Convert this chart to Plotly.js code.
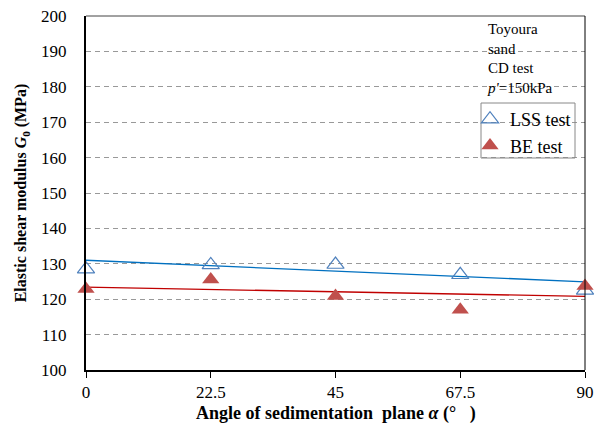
<!DOCTYPE html>
<html>
<head>
<meta charset="utf-8">
<script src="https://cdn.plot.ly/plotly-3.0.1.min.js"></script>
<style>html,body{margin:0;padding:0;background:#fff;}#chart{width:604px;height:425px;}</style>
</head>
<body>
<div id="chart"></div>
<script>
// Data
var angles = [0, 22.5, 45, 67.5, 90];
var lssG0 = [128.5, 129.7, 129.8, 126.9, 122.5];
var beG0 = [122.9, 125.6, 120.9, 117.0, 123.7];
var trendAngles = [0, 90];
var lssTrend = [131.0, 124.9];
var beTrend = [123.4, 120.8];
var xTickVals = [0, 22.5, 45, 67.5, 90];
var xTickText = ['0', '22.5', '45', '67.5', '90'];
var yTickVals = [100, 110, 120, 130, 140, 150, 160, 170, 180, 190, 200];
var xTitle = '<b>Angle of sedimentation\u00A0\u00A0plane <i>α</i> (°\u00A0\u00A0\u00A0)</b>';
var yTitle = '<b>Elastic shear modulus <i>G</i><sub>0</sub> (MPa)</b>';

var serif = '"Liberation Serif", "Times New Roman", serif';

var traces = [
  {x: trendAngles, y: lssTrend, mode: 'lines', line: {color: '#0070C0', width: 1.3}, showlegend: false, hoverinfo: 'skip'},
  {x: trendAngles, y: beTrend, mode: 'lines', line: {color: '#C00000', width: 1.3}, showlegend: false, hoverinfo: 'skip'},
  {x: angles, y: lssG0, mode: 'markers', name: 'LSS test', cliponaxis: false,
   marker: {symbol: 'triangle-up-open', size: 15, color: '#4F81BD', line: {width: 1.2, color: '#4F81BD'}}},
  {x: angles, y: beG0, mode: 'markers', name: 'BE test', cliponaxis: false,
   marker: {symbol: 'triangle-up', size: 15, color: '#C0504D', line: {width: 0}}}
];

var layout = {
  width: 604, height: 425,
  margin: {l: 86, r: 19, t: 16, b: 55},
  paper_bgcolor: '#fff', plot_bgcolor: '#fff',
  font: {family: serif, color: '#000'},
  showlegend: true,
  legend: {x: (470 - 86) / 499, y: (370 - 101) / 354, xanchor: 'left', yanchor: 'top',
           bgcolor: 'rgba(0,0,0,0)', borderwidth: 0,
           font: {family: serif, size: 18, color: '#000'},
           itemwidth: 30, tracegroupgap: 2},
  xaxis: {
    range: [0, 90], tickvals: xTickVals, ticktext: xTickText,
    ticks: 'outside', ticklen: 6, tickcolor: '#000', tickwidth: 1,
    showline: true, linecolor: '#000', linewidth: 2,
    showgrid: false, zeroline: false,
    tickfont: {family: serif, size: 17, color: '#000'}
  },
  yaxis: {
    range: [100, 200], tickvals: yTickVals,
    ticks: '', showline: true, linecolor: '#000', linewidth: 2,
    showgrid: true, gridcolor: '#999', griddash: '5px,4px', gridwidth: 1,
    zeroline: false, ticklabelstandoff: 14,
    tickfont: {family: serif, size: 17, color: '#000'},
    title: {text: yTitle, font: {family: serif, size: 16, color: '#000'}, standoff: 10}
  },
  shapes: [
    {type: 'line', xref: 'paper', yref: 'paper', x0: 0, x1: 1, y0: 1, y1: 1, line: {color: '#444', width: 1}},
    {type: 'line', xref: 'paper', yref: 'paper', x0: 1, x1: 1, y0: 0, y1: 1, line: {color: '#000', width: 1}},
    {type: 'rect', xref: 'paper', yref: 'paper', layer: 'above',
     x0: (481 - 86) / 499, x1: (575 - 86) / 499, y0: (370 - 158) / 354, y1: (370 - 103) / 354,
     fillcolor: 'rgba(0,0,0,0)', line: {color: '#888', width: 1}}
  ],
  annotations: [
    {xref: 'paper', yref: 'paper', x: (485 - 86) / 499, y: (370 - 19) / 354, xanchor: 'left', yanchor: 'top', align: 'left', showarrow: false,
     text: 'Toyoura<br>sand<br>CD test<br><i>p\'</i>=150kPa', font: {family: serif, size: 15, color: '#000'}},
    {xref: 'paper', yref: 'paper', x: 0.5, y: (370 - 413) / 354, xanchor: 'center', yanchor: 'middle', showarrow: false,
     text: xTitle, font: {family: serif, size: 18, color: '#000'}}
  ]
};

Plotly.newPlot('chart', traces, layout, {displayModeBar: false, staticPlot: true});
</script>
</body>
</html>
